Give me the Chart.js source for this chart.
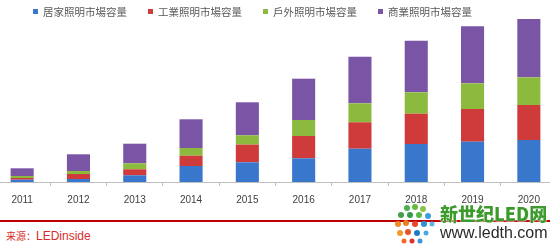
<!DOCTYPE html>
<html>
<head>
<meta charset="utf-8">
<script src="https://cdn.jsdelivr.net/npm/chart.js@4.4.1/dist/chart.umd.min.js"></script>
<style>
    html, body { margin: 0; padding: 0; background: #fff; }
    body { width: 550px; height: 248px; position: relative; overflow: hidden; }
    .chart-wrap { position: absolute; left: -6px; top: 0; width: 563px; height: 214px; }
    #legend { position: absolute; left: 33px; top: 4px; display: flex; gap: 21px;
        font-family: 'Noto Sans CJK TC', sans-serif; font-size: 10.5px; color: #595959; }
    #legend .item { display: flex; align-items: center; white-space: nowrap; line-height: 16px; }
    #legend .box { width: 5px; height: 5px; margin-right: 5px; margin-top: -2px; }
    .rule { position: absolute; left: 0; top: 220px; width: 550px; height: 2px; background: #c00000; }
    .source { position: absolute; left: 6px; top: 228px; color: #d92b2b; font-size: 12px;
        font-family: 'Liberation Sans', Arial, sans-serif; }
    .source .cn { font-family: 'Noto Sans CJK SC', serif; font-size: 10px; }
    .mark { position: absolute; left: 440px; top: 203px; }
    .mark .t1 { font-family: 'Noto Sans CJK SC', sans-serif; font-weight: 900; font-size: 18px;
        color: #3d9a2c; line-height: 20px; text-shadow: 0 0 2px #fff, 0 0 2px #fff; }
    .mark .t2 { font-family: 'Liberation Sans', Arial, sans-serif; font-size: 16px; color: #2a2a2a;
        line-height: 18px; margin-top: 1px; }
    .dots { position: absolute; left: 393px; top: 203px; width: 44px; height: 44px; }
</style>
</head>
<body>
<div class="chart-wrap"><canvas id="capacityChart"></canvas></div>
<div id="legend"></div>
<div class="rule"></div>
<div class="source"><span class="cn">来源：</span>LEDinside</div>
<svg class="dots" viewBox="0 0 44 44">
    <circle cx="14" cy="5" r="3" fill="#4caf50"/><circle cx="22" cy="4" r="3" fill="#66bb3a"/><circle cx="30" cy="6" r="3" fill="#8bc34a"/>
    <circle cx="8" cy="12" r="3" fill="#43a047"/><circle cx="17" cy="12" r="3" fill="#2e9e4a"/><circle cx="26" cy="12" r="3" fill="#58b947"/><circle cx="35" cy="13" r="3" fill="#3aa0d8"/>
    <circle cx="5" cy="21" r="3" fill="#f08a24"/><circle cx="13" cy="20" r="3" fill="#ee7d1f"/><circle cx="22" cy="21" r="3" fill="#e8452c"/><circle cx="31" cy="21" r="3" fill="#2f8fd3"/><circle cx="39" cy="21" r="2.5" fill="#5bb6e6"/>
    <circle cx="7" cy="30" r="3" fill="#f39a2a"/><circle cx="15" cy="29" r="3" fill="#e5532d"/><circle cx="24" cy="30" r="3" fill="#1f7cc4"/><circle cx="33" cy="30" r="2.5" fill="#4aa8e0"/>
    <circle cx="11" cy="38" r="2.5" fill="#ef6b25"/><circle cx="19" cy="38" r="2.5" fill="#d9342a"/><circle cx="27" cy="38" r="2.5" fill="#3b94d6"/>
</svg>
<div class="mark"><div class="t1">新世纪LED网</div><div class="t2">www.ledth.com</div></div>
<script>
document.addEventListener('DOMContentLoaded', () => {

    // years on the x axis
    const years = ['2011', '2012', '2013', '2014', '2015', '2016', '2017', '2018', '2019', '2020'];

    // series (relative units)
    const homeLighting = [2.3, 3.0, 6.7, 16.0, 19.7, 23.7, 33.3, 38.0, 40.3, 42.0];
    const industrialLighting = [1.7, 5.0, 6.0, 10.3, 17.7, 22.3, 26.4, 30.3, 32.7, 35.0];
    const outdoorLighting = [2.0, 3.0, 6.0, 7.7, 9.3, 16.0, 19.0, 21.4, 25.7, 27.7];
    const commercialLighting = [7.7, 16.7, 19.6, 28.7, 33.0, 41.3, 46.6, 51.6, 57.0, 58.3];

    const seriesNames = ['居家照明市場容量', '工業照明市場容量', '戶外照明市場容量', '商業照明市場容量'];

    // html legend built from the chart's own legend items
    const htmlLegend = {
        id: 'htmlLegend',
        afterUpdate(chart) {
            const box = document.getElementById('legend');
            box.innerHTML = '';
            chart.options.plugins.legend.labels.generateLabels(chart).forEach(item => {
                const el = document.createElement('div');
                el.className = 'item';
                const sw = document.createElement('span');
                sw.className = 'box';
                sw.style.background = item.fillStyle;
                el.appendChild(sw);
                el.appendChild(document.createTextNode(item.text));
                box.appendChild(el);
            });
        }
    };

    const ctx = document.getElementById('capacityChart');
    new Chart(ctx, {
        type: 'bar',
        data: {
            labels: years,
            datasets: [
                { label: seriesNames[0], data: homeLighting, backgroundColor: '#3877cc' },
                { label: seriesNames[1], data: industrialLighting, backgroundColor: '#cf3b3b' },
                { label: seriesNames[2], data: outdoorLighting, backgroundColor: '#8cba3e' },
                { label: seriesNames[3], data: commercialLighting, backgroundColor: '#7a55a6' }
            ]
        },
        options: {
            responsive: true,
            maintainAspectRatio: false,
            animation: false,
            layout: { padding: { top: 5, left: 0, right: 0, bottom: 0 } },
            datasets: {
                bar: { categoryPercentage: 1, barPercentage: 0.41, borderWidth: 0 }
            },
            scales: {
                x: {
                    stacked: true,
                    grid: { drawOnChartArea: false, drawTicks: true, tickLength: 4, color: '#bfbfbf' },
                    border: { color: '#bfbfbf' },
                    ticks: {
                        padding: 8,
                        color: '#404040',
                        font: { family: "'Liberation Sans', Arial, sans-serif", size: 10 }
                    }
                },
                y: { stacked: true, display: false, min: 0, max: 177 }
            },
            plugins: {
                legend: { display: false },
                tooltip: { enabled: false }
            }
        },
        plugins: [htmlLegend]
    });

});
</script>
</body>
</html>
